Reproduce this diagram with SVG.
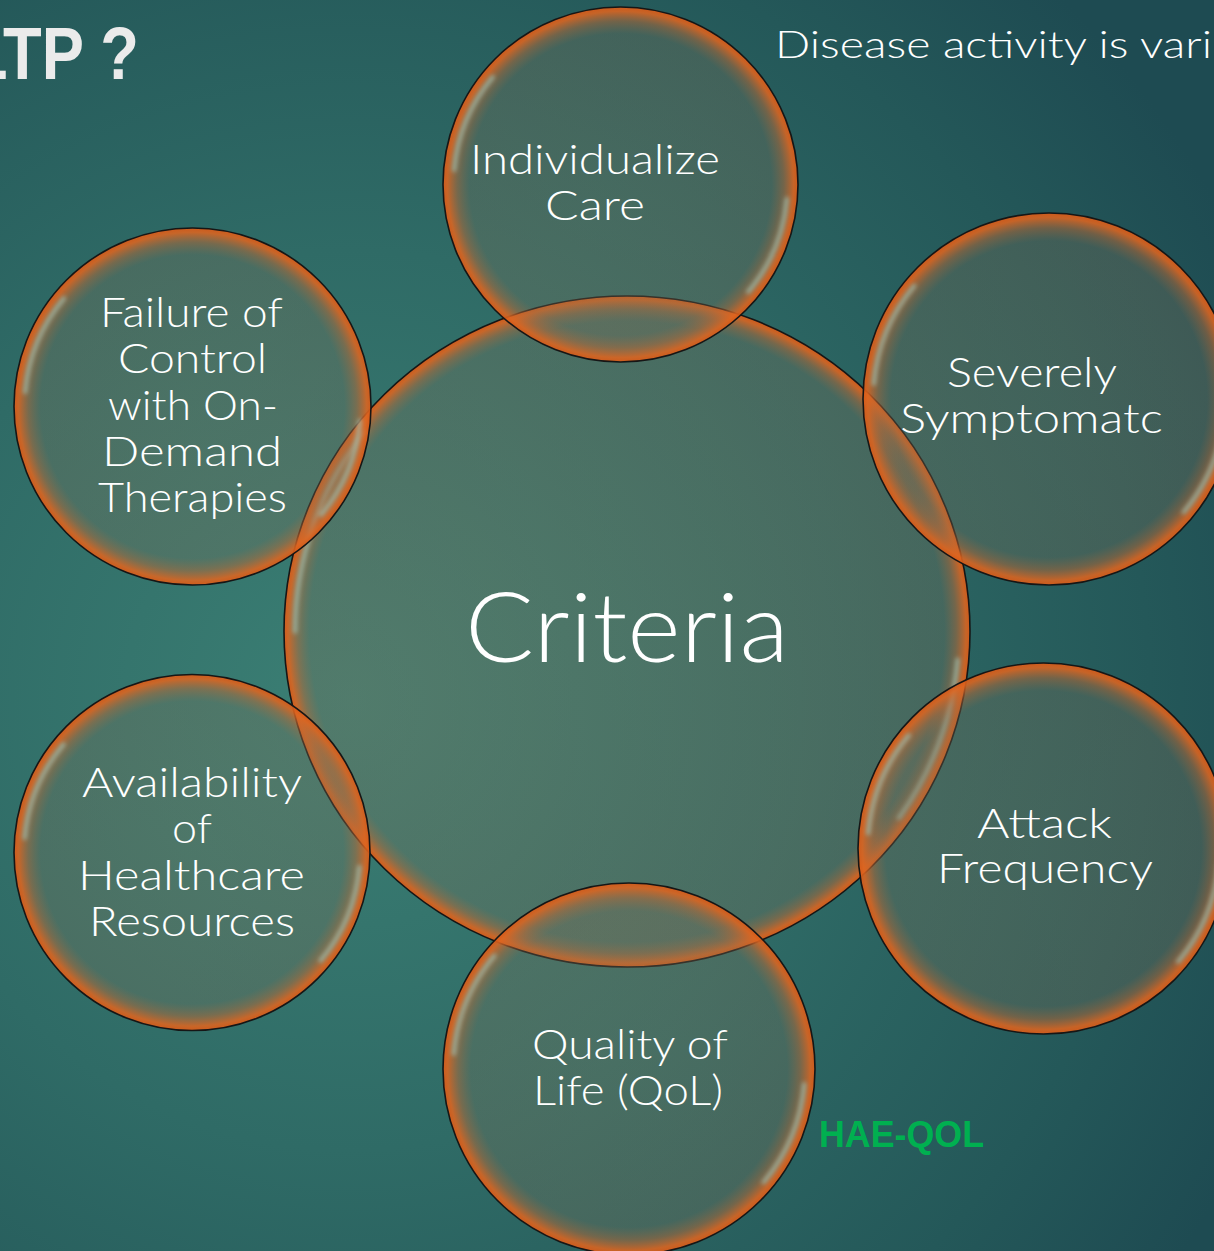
<svg xmlns="http://www.w3.org/2000/svg" width="1214" height="1251" viewBox="0 0 1214 1251">
  <defs>
    <style>
      .bubble { fill: url(#bubbleFill); stroke: #161616; stroke-width: 1.6; }
      .bubble.hub { fill: url(#hubFill); }
      .hl { fill: none; stroke: #98d2cc; stroke-opacity: 0.62; stroke-width: 4.5; stroke-linecap: round; filter: url(#soft); }
      .lbl { font-family: Lato, "Liberation Sans", Arial, sans-serif; font-weight: 300; font-size: 42px; fill: #ffffff; }
      .big { font-size: 97px; }
      .note { font-size: 38px; }
      .title { font-family: "Liberation Sans", Arial, sans-serif; font-weight: bold; font-size: 75px; fill: #ebebeb; }
      .tag { font-family: "Liberation Sans", Arial, sans-serif; font-weight: bold; font-size: 37px; fill: #00b050; }
    </style>
    <!-- slide backdrop: lighter teal on the left, darker towards the right corners -->
    <radialGradient id="bg" gradientUnits="userSpaceOnUse" cx="350" cy="700" r="1000">
      <stop offset="0" stop-color="#3b7f74"/>
      <stop offset="0.45" stop-color="#2f6b66"/>
      <stop offset="0.8" stop-color="#245859"/>
      <stop offset="1" stop-color="#1e4b52"/>
    </radialGradient>
    <!-- translucent bubble with an orange rim (small bubbles) -->
    <radialGradient id="bubbleFill" cx="0.5" cy="0.5" r="0.5">
      <stop offset="0" stop-color="#8a7a5c" stop-opacity="0.28"/>
      <stop offset="0.85" stop-color="#857258" stop-opacity="0.30"/>
      <stop offset="0.92" stop-color="#c06a35" stop-opacity="0.50"/>
      <stop offset="0.975" stop-color="#e0651f" stop-opacity="0.86"/>
      <stop offset="1" stop-color="#d65a18" stop-opacity="0.95"/>
    </radialGradient>
    <!-- same look, rim scaled for the large central bubble -->
    <radialGradient id="hubFill" cx="0.5" cy="0.5" r="0.5">
      <stop offset="0" stop-color="#8a7a5c" stop-opacity="0.28"/>
      <stop offset="0.925" stop-color="#857258" stop-opacity="0.30"/>
      <stop offset="0.96" stop-color="#c06a35" stop-opacity="0.50"/>
      <stop offset="0.988" stop-color="#e0651f" stop-opacity="0.86"/>
      <stop offset="1" stop-color="#d65a18" stop-opacity="0.95"/>
    </radialGradient>
    <filter id="soft" x="-30%" y="-30%" width="160%" height="160%">
      <feGaussianBlur stdDeviation="2"/>
    </filter>
  </defs>

  <rect x="0" y="0" width="1214" height="1251" fill="url(#bg)"/>

  <!-- heading fragments -->
  <text class="title" x="-31" y="79" textLength="170" lengthAdjust="spacingAndGlyphs">LTP ?</text>
  <text class="lbl note" x="775" y="58" textLength="437" lengthAdjust="spacingAndGlyphs">Disease activity is vari</text>

  <!-- central bubble -->
  <g id="criteria">
    <ellipse class="bubble hub" cx="627" cy="631.5" rx="343" ry="335.5"/>
    <path class="hl" d="M365.4,431.4 A332,325 0 0 0 295,631.5"/>
    <path class="hl" d="M957.7,659.8 A332,325 0 0 1 899,817.9"/>
    <text class="lbl big" x="465" y="662" textLength="324" lengthAdjust="spacingAndGlyphs">Criteria</text>
  </g>

  <g id="individualize-care">
    <circle class="bubble" cx="620.5" cy="184.5" r="177.5"/>
    <path class="hl" d="M492.6,77.2 A167,167 0 0 0 454.1,169.9"/>
    <path class="hl" d="M786.9,199.1 A167,167 0 0 1 748.4,291.8"/>
    <text class="lbl" x="470" y="174" textLength="250" lengthAdjust="spacingAndGlyphs">Individualize</text>
    <text class="lbl" x="545" y="220" textLength="100" lengthAdjust="spacingAndGlyphs">Care</text>
  </g>

  <g id="failure-of-control">
    <circle class="bubble" cx="192.5" cy="406.5" r="178.5"/>
    <path class="hl" d="M63.8,298.5 A168,168 0 0 0 25.1,391.9"/>
    <path class="hl" d="M359.9,421.1 A168,168 0 0 1 321.2,514.5"/>
    <text class="lbl" x="100" y="327" textLength="183" lengthAdjust="spacingAndGlyphs">Failure of</text>
    <text class="lbl" x="118" y="373" textLength="149" lengthAdjust="spacingAndGlyphs">Control</text>
    <text class="lbl" x="108" y="420" textLength="170" lengthAdjust="spacingAndGlyphs">with On-</text>
    <text class="lbl" x="102" y="466" textLength="180" lengthAdjust="spacingAndGlyphs">Demand</text>
    <text class="lbl" x="98" y="512" textLength="189" lengthAdjust="spacingAndGlyphs">Therapies</text>
  </g>

  <g id="severely-symptomatic">
    <circle class="bubble" cx="1049" cy="399" r="186"/>
    <path class="hl" d="M914.2,285.9 A176,176 0 0 0 873.7,383.7"/>
    <path class="hl" d="M1224.3,414.3 A176,176 0 0 1 1183.8,512.1"/>
    <text class="lbl" x="947" y="387" textLength="170" lengthAdjust="spacingAndGlyphs">Severely</text>
    <text class="lbl" x="900" y="433" textLength="263" lengthAdjust="spacingAndGlyphs">Symptomatc</text>
  </g>

  <g id="availability">
    <circle class="bubble" cx="192" cy="852.5" r="178"/>
    <path class="hl" d="M63.3,744.5 A168,168 0 0 0 24.6,837.9"/>
    <path class="hl" d="M359.4,867.1 A168,168 0 0 1 320.7,960.5"/>
    <text class="lbl" x="82" y="797" textLength="220" lengthAdjust="spacingAndGlyphs">Availability</text>
    <text class="lbl" x="172" y="843" textLength="40" lengthAdjust="spacingAndGlyphs">of</text>
    <text class="lbl" x="78" y="890" textLength="227" lengthAdjust="spacingAndGlyphs">Healthcare</text>
    <text class="lbl" x="89" y="936" textLength="206" lengthAdjust="spacingAndGlyphs">Resources</text>
  </g>

  <g id="attack-frequency">
    <circle class="bubble" cx="1043.5" cy="848.5" r="185.5"/>
    <path class="hl" d="M908.7,735.4 A176,176 0 0 0 868.2,833.2"/>
    <path class="hl" d="M1218.8,863.8 A176,176 0 0 1 1178.3,961.6"/>
    <text class="lbl" x="977" y="838" textLength="135" lengthAdjust="spacingAndGlyphs">Attack</text>
    <text class="lbl" x="937" y="883" textLength="216" lengthAdjust="spacingAndGlyphs">Frequency</text>
  </g>

  <g id="quality-of-life">
    <circle class="bubble" cx="629" cy="1069" r="186"/>
    <path class="hl" d="M494.2,955.9 A176,176 0 0 0 453.7,1053.7"/>
    <path class="hl" d="M804.3,1084.3 A176,176 0 0 1 763.8,1182.1"/>
    <text class="lbl" x="532" y="1059" textLength="196" lengthAdjust="spacingAndGlyphs">Quality of</text>
    <text class="lbl" x="533" y="1105" textLength="190" lengthAdjust="spacingAndGlyphs">Life (QoL)</text>
  </g>

  <g id="hae-qol">
    <text class="tag" x="819" y="1147" textLength="165" lengthAdjust="spacingAndGlyphs">HAE-QOL</text>
  </g>
</svg>
